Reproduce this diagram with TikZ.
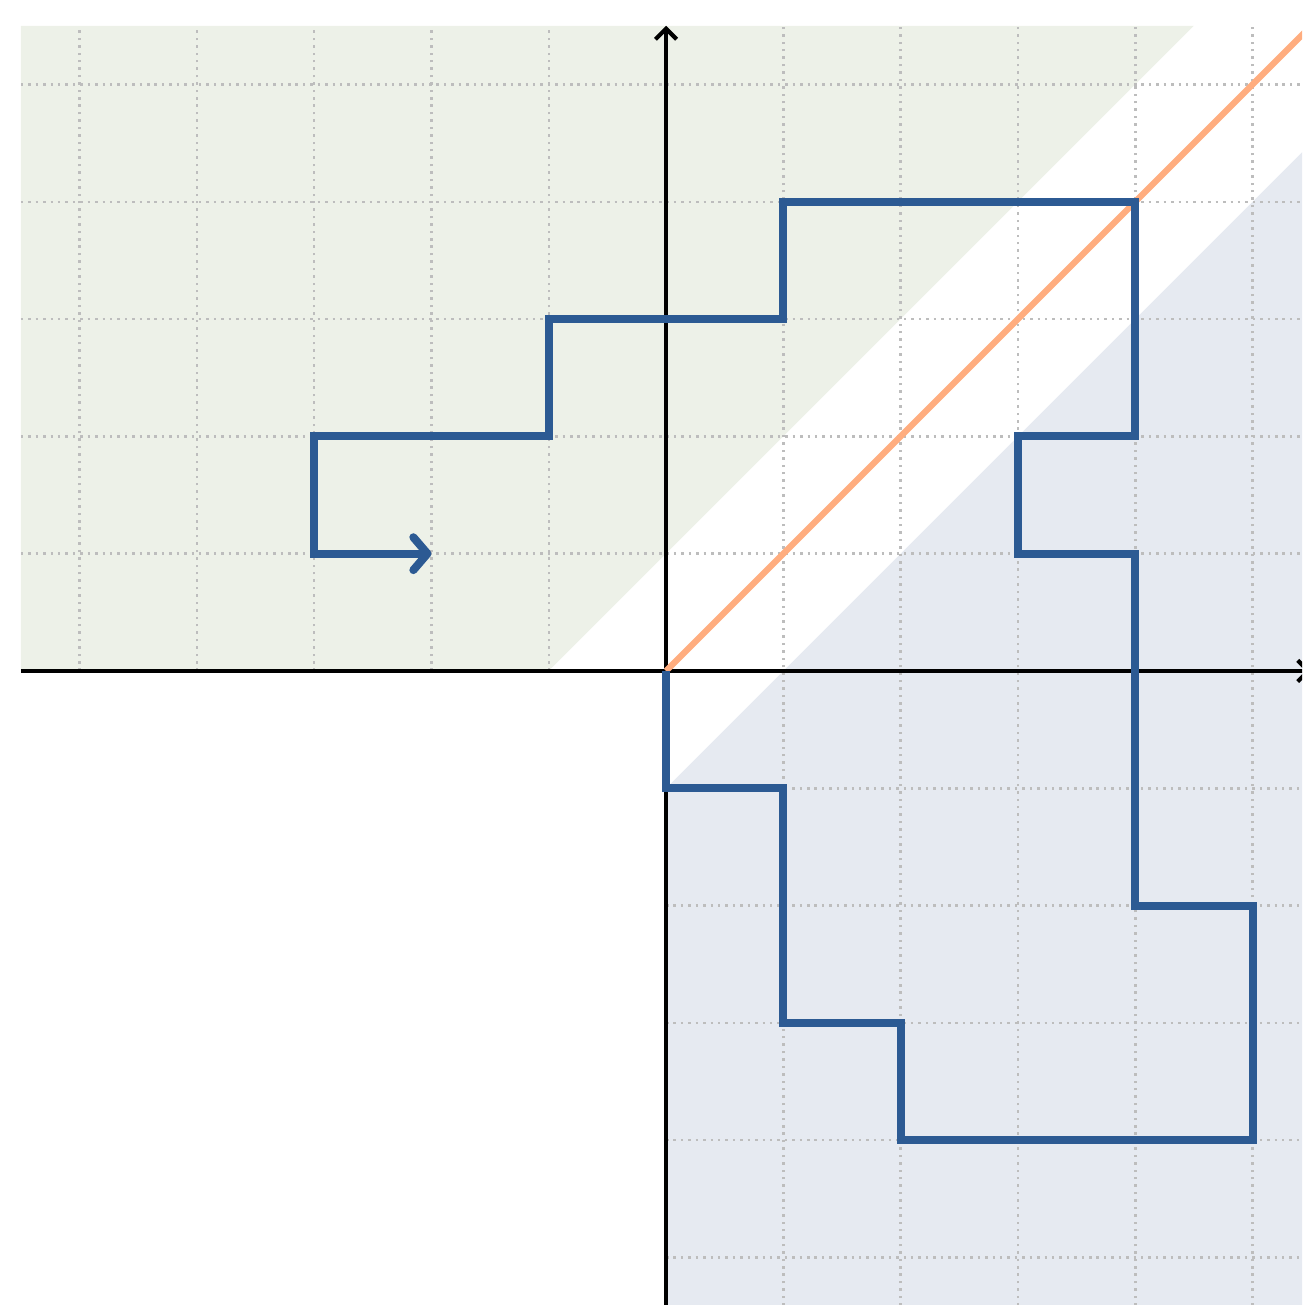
\documentclass[tikz,border=0pt]{standalone}
\usetikzlibrary{arrows.meta}
\definecolor{greenbg}{HTML}{EDF1E8}
\definecolor{bluebg}{HTML}{E6EAF1}
\definecolor{pathblue}{HTML}{2C5A93}
\definecolor{diagorange}{HTML}{FFAD7F}
\definecolor{gridgray}{HTML}{BDBDBD}
\tikzset{
  gridline/.style={gridgray, line width=0.6pt, dash pattern=on 0.6pt off 1.2pt},
  axisline/.style={black, line width=1pt, -{Straight Barb[length=0.9mm, width=1.8mm, line width=1pt]}},
  walk/.style={pathblue, line width=1.95pt, -{Straight Barb[length=1.2mm, width=2.8mm, round, line width=1.95pt]}},
  diag/.style={diagorange, line width=1.5pt}
}
\begin{document}
\begin{tikzpicture}
\useasboundingbox (-5.678,-5.405) rectangle (5.422,5.720);
\clip (-5.678,-5.405) rectangle (5.422,5.720);
% shaded regions
\fill[greenbg] (-5.5,0) -- (-1,0) -- (4.5,5.5) -- (-5.5,5.5) -- cycle;
\fill[bluebg] (0,-1) -- (0,-5.5) -- (5.5,-5.5) -- (5.5,4.5) -- cycle;
% grid
\foreach \y in {1,...,5} \draw[gridline] (-5.5,\y) -- (5.6,\y);
\foreach \y in {-1,-2,-3,-4,-5} \draw[gridline] (0,\y) -- (5.6,\y);
\foreach \x in {-5,...,-1} \draw[gridline] (\x,0) -- (\x,5.5);
\foreach \x in {1,...,5} \draw[gridline] (\x,-5.6) -- (\x,5.5);
% axes
\coordinate (xs) at (-5.5,0);
\coordinate (xe) at (5.5,0);
\coordinate (ys) at (0,-5.6);
\coordinate (ye) at (0,5.5);
\draw[axisline] (xs) -- (xe);
\draw[axisline] (ys) -- (ye);
% diagonal
\coordinate (o) at (0,0);
\coordinate (d) at (5.6,5.6);
\draw[diag] (o) -- (d);
% walk
\draw[walk] (0,0) -- (0,-1) -- (1,-1) -- (1,-3) -- (2,-3) -- (2,-4) -- (5,-4) -- (5,-2) -- (4,-2) -- (4,1) -- (3,1) -- (3,2) -- (4,2) -- (4,4) -- (1,4) -- (1,3) -- (-1,3) -- (-1,2) -- (-3,2) -- (-3,1) -- (-2,1);
\end{tikzpicture}
\end{document}
